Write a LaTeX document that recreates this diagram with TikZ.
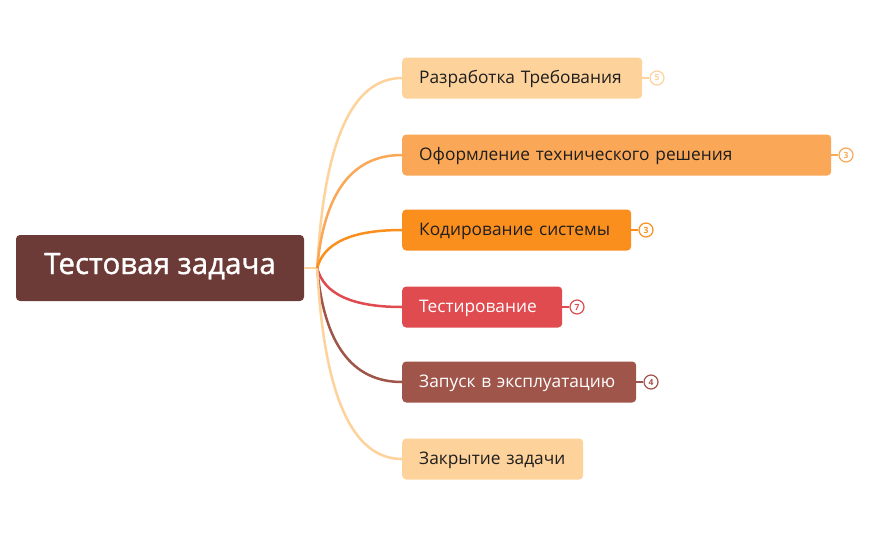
\documentclass[tikz,border=0pt]{standalone}
\usepackage{fontspec}
\setmainfont{Open Sans}
\newfontfamily\rootfont{Open Sans}[FakeBold=1.2]
\usetikzlibrary{positioning,calc}
\definecolor{rootbrown}{HTML}{6D3B37}
\definecolor{peach}{HTML}{FDD29B}
\definecolor{lightorange}{HTML}{FAA857}
\definecolor{deeporange}{HTML}{FB8F1E}
\definecolor{testred}{HTML}{E04B50}
\definecolor{rustbrown}{HTML}{A0554B}
\definecolor{darktext}{HTML}{1E1E1E}
\tikzset{
    root/.style={
        rectangle,
        rounded corners=4pt,
        fill=rootbrown,
        text=white,
        font=\rootfont\fontsize{29.5}{32}\selectfont,
        text height=1.2em,
        text depth=0em,
        minimum width=288pt,
        minimum height=66pt
    },
    topic/.style={
        rectangle,
        rounded corners=4pt,
        anchor=west,
        minimum height=41pt,
        inner xsep=17pt,
        align=left,
        text=darktext,
        text height=1.15em,
        text depth=0em,
        font=\fontsize{17.3}{20}\selectfont
    },
    badge/.style={
        circle,
        draw,
        fill=white,
        line width=1.2pt,
        inner sep=0pt,
        minimum size=14pt,
        font=\bfseries\fontsize{8.5}{9}\selectfont
    },
    branch/.style={
        line width=2.5pt
    },
    tick/.style={
        line width=1.2pt
    }
}
% curve from the hub to a topic
\newcommand{\branchto}[2]{%
    \draw [branch, #1] (hub) .. controls ($(hub)!0.667!(hubc |- #2.west)$)
        and ($(#2.west)!0.667!(hubc |- #2.west)$) .. (#2.west);}

\begin{document}
\begin{tikzpicture}[x=1pt,y=-1pt]
    \useasboundingbox (0,0) rectangle (869,538);
    \node (root) [root] at (160,268) {Тестовая задача};
    \node (req) [topic, fill=peach, text width=206pt] at (402,78) {Разработка Требования};
    \node (design) [topic, fill=lightorange, text width=395pt] at (402,155) {Оформление технического решения};
    \node (coding) [topic, fill=deeporange, text width=195pt] at (402,230) {Кодирование системы};
    \node (testing) [topic, fill=testred, text=white, text width=126pt] at (402,307) {Тестирование};
    \node (launch) [topic, fill=rustbrown, text=white, text width=200pt] at (402,382) {Запуск в эксплуатацию};
    \node (closing) [topic, fill=peach, text width=147pt] at (402,459) {Закрытие задачи};
    % branch lines
    \coordinate (hub) at ([xshift=13pt]root.east);
    \coordinate (hubc) at ([xshift=10pt]hub);
    \draw [branch, peach] (root.east) -- (hub);
    \branchto{peach}{req}
    \branchto{lightorange}{design}
    \branchto{deeporange}{coding}
    \branchto{testred}{testing}
    \branchto{rustbrown}{launch}
    \branchto{peach}{closing}
    % counters
    \node (reqn) [badge, draw=peach, text=peach, right=7pt of req] {5};
    \node (designn) [badge, draw=lightorange, text=lightorange, right=7pt of design] {3};
    \node (codingn) [badge, draw=deeporange, text=deeporange, right=7pt of coding] {3};
    \node (testingn) [badge, draw=testred, text=testred, right=7pt of testing] {7};
    \node (launchn) [badge, draw=rustbrown, text=rustbrown, right=7pt of launch] {4};
    \draw [tick, peach] (req.east) -- (reqn);
    \draw [tick, lightorange] (design.east) -- (designn);
    \draw [tick, deeporange] (coding.east) -- (codingn);
    \draw [tick, testred] (testing.east) -- (testingn);
    \draw [tick, rustbrown] (launch.east) -- (launchn);
\end{tikzpicture}
\end{document}
